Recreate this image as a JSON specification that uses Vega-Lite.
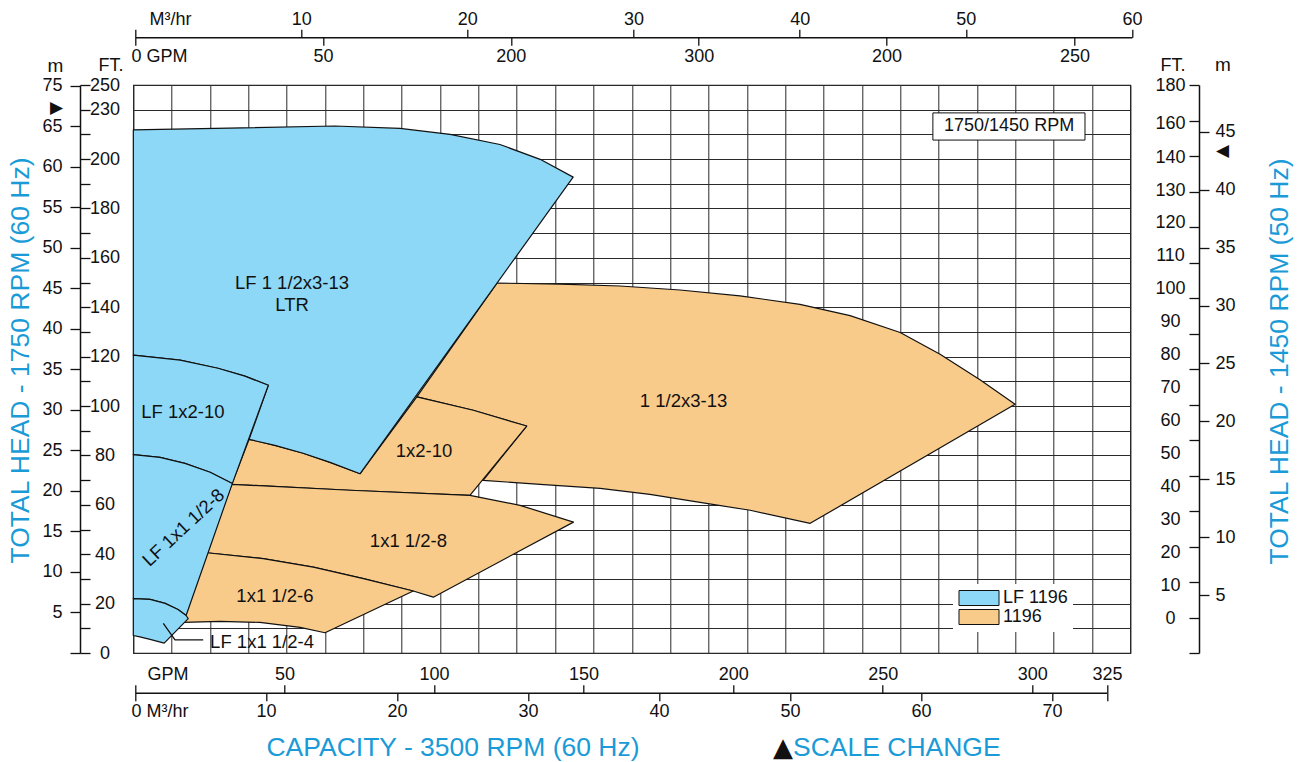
{
  "$schema": "https://vega.github.io/schema/vega-lite/v6.json",
  "width": 997,
  "height": 568,
  "autosize": {"type": "none"},
  "padding": {"left": 133.3, "top": 85, "right": 171.7, "bottom": 109},
  "background": "white",
  "datasets": {
    "polys": [
      {"poly": "1 1/2x3-13", "series": "1196", "i": 1, "gpm": 120.7, "ft": 149.8},
      {"poly": "1 1/2x3-13", "series": "1196", "i": 2, "gpm": 141.7, "ft": 149.4},
      {"poly": "1 1/2x3-13", "series": "1196", "i": 3, "gpm": 161.7, "ft": 148.6},
      {"poly": "1 1/2x3-13", "series": "1196", "i": 4, "gpm": 181.7, "ft": 147.0},
      {"poly": "1 1/2x3-13", "series": "1196", "i": 5, "gpm": 201.7, "ft": 144.6},
      {"poly": "1 1/2x3-13", "series": "1196", "i": 6, "gpm": 221.7, "ft": 141.2},
      {"poly": "1 1/2x3-13", "series": "1196", "i": 7, "gpm": 238.4, "ft": 136.6},
      {"poly": "1 1/2x3-13", "series": "1196", "i": 8, "gpm": 255.1, "ft": 129.8},
      {"poly": "1 1/2x3-13", "series": "1196", "i": 9, "gpm": 268.4, "ft": 121.0},
      {"poly": "1 1/2x3-13", "series": "1196", "i": 10, "gpm": 281.7, "ft": 110.6},
      {"poly": "1 1/2x3-13", "series": "1196", "i": 11, "gpm": 293.4, "ft": 100.7},
      {"poly": "1 1/2x3-13", "series": "1196", "i": 12, "gpm": 225.1, "ft": 52.5},
      {"poly": "1 1/2x3-13", "series": "1196", "i": 13, "gpm": 205.1, "ft": 57.8},
      {"poly": "1 1/2x3-13", "series": "1196", "i": 14, "gpm": 188.4, "ft": 61.0},
      {"poly": "1 1/2x3-13", "series": "1196", "i": 15, "gpm": 171.7, "ft": 64.2},
      {"poly": "1 1/2x3-13", "series": "1196", "i": 16, "gpm": 155.1, "ft": 66.7},
      {"poly": "1 1/2x3-13", "series": "1196", "i": 17, "gpm": 135.1, "ft": 68.3},
      {"poly": "1 1/2x3-13", "series": "1196", "i": 18, "gpm": 116.1, "ft": 69.9},
      {"poly": "1 1/2x3-13", "series": "1196", "i": 19, "gpm": 130.6, "ft": 91.9},
      {"poly": "1 1/2x3-13", "series": "1196", "i": 20, "gpm": 112.8, "ft": 98.3},
      {"poly": "1 1/2x3-13", "series": "1196", "i": 21, "gpm": 94.0, "ft": 103.7},
      {"poly": "1x2-10", "series": "1196", "i": 1, "gpm": 94.0, "ft": 103.7},
      {"poly": "1x2-10", "series": "1196", "i": 2, "gpm": 112.8, "ft": 98.3},
      {"poly": "1x2-10", "series": "1196", "i": 3, "gpm": 130.6, "ft": 91.9},
      {"poly": "1x2-10", "series": "1196", "i": 4, "gpm": 111.7, "ft": 63.8},
      {"poly": "1x2-10", "series": "1196", "i": 5, "gpm": 71.7, "ft": 65.9},
      {"poly": "1x2-10", "series": "1196", "i": 6, "gpm": 32.3, "ft": 68.3},
      {"poly": "1x2-10", "series": "1196", "i": 7, "gpm": 38.1, "ft": 86.5},
      {"poly": "1x2-10", "series": "1196", "i": 8, "gpm": 46.7, "ft": 84.1},
      {"poly": "1x2-10", "series": "1196", "i": 9, "gpm": 56.1, "ft": 80.9},
      {"poly": "1x2-10", "series": "1196", "i": 10, "gpm": 65.1, "ft": 77.2},
      {"poly": "1x2-10", "series": "1196", "i": 11, "gpm": 75.1, "ft": 72.6},
      {"poly": "1x1 1/2-8", "series": "1196", "i": 1, "gpm": 32.3, "ft": 68.3},
      {"poly": "1x1 1/2-8", "series": "1196", "i": 2, "gpm": 71.7, "ft": 65.9},
      {"poly": "1x1 1/2-8", "series": "1196", "i": 3, "gpm": 111.7, "ft": 63.8},
      {"poly": "1x1 1/2-8", "series": "1196", "i": 4, "gpm": 128.4, "ft": 59.8},
      {"poly": "1x1 1/2-8", "series": "1196", "i": 5, "gpm": 146.2, "ft": 53.0},
      {"poly": "1x1 1/2-8", "series": "1196", "i": 6, "gpm": 99.5, "ft": 22.6},
      {"poly": "1x1 1/2-8", "series": "1196", "i": 7, "gpm": 92.8, "ft": 25.1},
      {"poly": "1x1 1/2-8", "series": "1196", "i": 8, "gpm": 76.2, "ft": 30.1},
      {"poly": "1x1 1/2-8", "series": "1196", "i": 9, "gpm": 59.5, "ft": 34.8},
      {"poly": "1x1 1/2-8", "series": "1196", "i": 10, "gpm": 42.8, "ft": 38.2},
      {"poly": "1x1 1/2-8", "series": "1196", "i": 11, "gpm": 24.0, "ft": 40.6},
      {"poly": "1x1 1/2-6", "series": "1196", "i": 1, "gpm": 24.0, "ft": 40.6},
      {"poly": "1x1 1/2-6", "series": "1196", "i": 2, "gpm": 42.8, "ft": 38.2},
      {"poly": "1x1 1/2-6", "series": "1196", "i": 3, "gpm": 59.5, "ft": 34.8},
      {"poly": "1x1 1/2-6", "series": "1196", "i": 4, "gpm": 76.2, "ft": 30.1},
      {"poly": "1x1 1/2-6", "series": "1196", "i": 5, "gpm": 92.8, "ft": 25.1},
      {"poly": "1x1 1/2-6", "series": "1196", "i": 6, "gpm": 63.4, "ft": 8.2},
      {"poly": "1x1 1/2-6", "series": "1196", "i": 7, "gpm": 55.1, "ft": 10.4},
      {"poly": "1x1 1/2-6", "series": "1196", "i": 8, "gpm": 41.7, "ft": 12.4},
      {"poly": "1x1 1/2-6", "series": "1196", "i": 9, "gpm": 28.4, "ft": 12.8},
      {"poly": "1x1 1/2-6", "series": "1196", "i": 10, "gpm": 16.1, "ft": 12.4},
      {"poly": "LF 1 1/2x3-13 LTR", "series": "LF 1196", "i": 1, "gpm": -0.5, "ft": 211.8},
      {"poly": "LF 1 1/2x3-13 LTR", "series": "LF 1196", "i": 2, "gpm": 66.7, "ft": 213.4},
      {"poly": "LF 1 1/2x3-13 LTR", "series": "LF 1196", "i": 3, "gpm": 88.4, "ft": 212.4},
      {"poly": "LF 1 1/2x3-13 LTR", "series": "LF 1196", "i": 4, "gpm": 105.1, "ft": 210.0},
      {"poly": "LF 1 1/2x3-13 LTR", "series": "LF 1196", "i": 5, "gpm": 121.7, "ft": 205.9},
      {"poly": "LF 1 1/2x3-13 LTR", "series": "LF 1196", "i": 6, "gpm": 135.1, "ft": 199.9},
      {"poly": "LF 1 1/2x3-13 LTR", "series": "LF 1196", "i": 7, "gpm": 146.1, "ft": 192.7},
      {"poly": "LF 1 1/2x3-13 LTR", "series": "LF 1196", "i": 8, "gpm": 75.1, "ft": 72.6},
      {"poly": "LF 1 1/2x3-13 LTR", "series": "LF 1196", "i": 9, "gpm": 65.1, "ft": 77.2},
      {"poly": "LF 1 1/2x3-13 LTR", "series": "LF 1196", "i": 10, "gpm": 56.1, "ft": 80.9},
      {"poly": "LF 1 1/2x3-13 LTR", "series": "LF 1196", "i": 11, "gpm": 46.7, "ft": 84.1},
      {"poly": "LF 1 1/2x3-13 LTR", "series": "LF 1196", "i": 12, "gpm": 38.1, "ft": 86.5},
      {"poly": "LF 1 1/2x3-13 LTR", "series": "LF 1196", "i": 13, "gpm": 44.5, "ft": 108.4},
      {"poly": "LF 1 1/2x3-13 LTR", "series": "LF 1196", "i": 14, "gpm": 36.7, "ft": 112.1},
      {"poly": "LF 1 1/2x3-13 LTR", "series": "LF 1196", "i": 15, "gpm": 27.7, "ft": 115.3},
      {"poly": "LF 1 1/2x3-13 LTR", "series": "LF 1196", "i": 16, "gpm": 15.1, "ft": 118.6},
      {"poly": "LF 1 1/2x3-13 LTR", "series": "LF 1196", "i": 17, "gpm": -0.5, "ft": 120.6},
      {"poly": "LF 1x2-10", "series": "LF 1196", "i": 1, "gpm": -0.5, "ft": 120.6},
      {"poly": "LF 1x2-10", "series": "LF 1196", "i": 2, "gpm": 15.1, "ft": 118.6},
      {"poly": "LF 1x2-10", "series": "LF 1196", "i": 3, "gpm": 27.7, "ft": 115.3},
      {"poly": "LF 1x2-10", "series": "LF 1196", "i": 4, "gpm": 36.7, "ft": 112.1},
      {"poly": "LF 1x2-10", "series": "LF 1196", "i": 5, "gpm": 44.5, "ft": 108.4},
      {"poly": "LF 1x2-10", "series": "LF 1196", "i": 6, "gpm": 32.5, "ft": 68.6},
      {"poly": "LF 1x2-10", "series": "LF 1196", "i": 7, "gpm": 25.1, "ft": 73.2},
      {"poly": "LF 1x2-10", "series": "LF 1196", "i": 8, "gpm": 16.7, "ft": 76.8},
      {"poly": "LF 1x2-10", "series": "LF 1196", "i": 9, "gpm": 8.4, "ft": 79.2},
      {"poly": "LF 1x2-10", "series": "LF 1196", "i": 10, "gpm": -0.5, "ft": 80.3},
      {"poly": "LF 1x1 1/2-8", "series": "LF 1196", "i": 1, "gpm": -0.5, "ft": 80.3},
      {"poly": "LF 1x1 1/2-8", "series": "LF 1196", "i": 2, "gpm": 8.4, "ft": 79.2},
      {"poly": "LF 1x1 1/2-8", "series": "LF 1196", "i": 3, "gpm": 16.7, "ft": 76.8},
      {"poly": "LF 1x1 1/2-8", "series": "LF 1196", "i": 4, "gpm": 25.1, "ft": 73.2},
      {"poly": "LF 1x1 1/2-8", "series": "LF 1196", "i": 5, "gpm": 32.5, "ft": 68.6},
      {"poly": "LF 1x1 1/2-8", "series": "LF 1196", "i": 6, "gpm": 17.1, "ft": 15.2},
      {"poly": "LF 1x1 1/2-8", "series": "LF 1196", "i": 7, "gpm": 14.4, "ft": 17.6},
      {"poly": "LF 1x1 1/2-8", "series": "LF 1196", "i": 8, "gpm": 10.1, "ft": 20.1},
      {"poly": "LF 1x1 1/2-8", "series": "LF 1196", "i": 9, "gpm": 5.1, "ft": 21.7},
      {"poly": "LF 1x1 1/2-8", "series": "LF 1196", "i": 10, "gpm": -0.5, "ft": 22.0},
      {"poly": "LF 1x1 1/2-4", "series": "LF 1196", "i": 1, "gpm": -0.5, "ft": 22.0},
      {"poly": "LF 1x1 1/2-4", "series": "LF 1196", "i": 2, "gpm": 5.1, "ft": 21.7},
      {"poly": "LF 1x1 1/2-4", "series": "LF 1196", "i": 3, "gpm": 10.1, "ft": 20.1},
      {"poly": "LF 1x1 1/2-4", "series": "LF 1196", "i": 4, "gpm": 14.4, "ft": 17.6},
      {"poly": "LF 1x1 1/2-4", "series": "LF 1196", "i": 5, "gpm": 17.1, "ft": 15.2},
      {"poly": "LF 1x1 1/2-4", "series": "LF 1196", "i": 6, "gpm": 17.8, "ft": 13.9},
      {"poly": "LF 1x1 1/2-4", "series": "LF 1196", "i": 7, "gpm": 9.8, "ft": 4.0},
      {"poly": "LF 1x1 1/2-4", "series": "LF 1196", "i": 8, "gpm": 5.1, "ft": 5.5},
      {"poly": "LF 1x1 1/2-4", "series": "LF 1196", "i": 9, "gpm": 1.7, "ft": 6.5},
      {"poly": "LF 1x1 1/2-4", "series": "LF 1196", "i": 10, "gpm": -0.5, "ft": 7.1}
    ],
    "labels": [
      {"label": "LF 1 1/2x3-13\nLTR", "gpm": 52.4, "ft": 149.8},
      {"label": "LF 1x2-10", "gpm": 16.0, "ft": 97.7},
      {"label": "1x2-10", "gpm": 96.4, "ft": 81.9},
      {"label": "1 1/2x3-13", "gpm": 182.9, "ft": 102.0},
      {"label": "1x1 1/2-8", "gpm": 91.2, "ft": 45.4},
      {"label": "1x1 1/2-6", "gpm": 46.7, "ft": 23.2}
    ],
    "slanted": [{"label": "LF 1x1 1/2-8", "gpm": 16.2, "ft": 50.8}],
    "pointer": [{"label": "LF 1x1 1/2-4", "gpm": 25.1, "ft": 4.6}],
    "leader": [
      {"i": 1, "gpm": 9.5, "ft": 12.0},
      {"i": 2, "gpm": 13.4, "ft": 5.3},
      {"i": 3, "gpm": 22.8, "ft": 5.3}
    ],
    "note": [{"label": "1750/1450 RPM", "gpm": 266.0, "gpm2": 316.7, "ft": 207.7, "ft2": 218.7, "gpmc": 291.4, "ftc": 213.2}],
    "anchor": [{"v": 0}]
  },
  "layer": [
    {
      "data": {"name": "anchor"},
      "mark": {"type": "point", "opacity": 0},
      "encoding": {
        "x": {"field": "v", "type": "quantitative", "scale": {"domain": [0, 26], "nice": false, "zero": false},
          "axis": {"orient": "bottom", "grid": true, "ticks": false, "labels": false, "domain": false,
            "values": [0,1,2,3,4,5,6,7,8,9,10,11,12,13,14,15,16,17,18,19,20,21,22,23,24,25,26],
            "gridColor": "#2a2a2a", "gridWidth": 1,
            "title": "m", "titleX": -78.3, "titleY": -582, "titleAngle": 0, "titleAlign": "center", "titleBaseline": "alphabetic", "titleFontSize": 19}},
        "y": {"field": "v", "type": "quantitative", "scale": {"domain": [0, 23], "nice": false, "zero": false},
          "axis": {"orient": "left", "grid": true, "ticks": false, "labels": false, "domain": false,
            "values": [0,1,2,3,4,5,6,7,8,9,10,11,12,13,14,15,16,17,18,19,20,21,22,23],
            "gridColor": "#2a2a2a", "gridWidth": 1,
            "title": "m", "titleX": 1089.2, "titleY": -15, "titleAngle": 0, "titleAlign": "center", "titleBaseline": "alphabetic", "titleFontSize": 19}}
      }
    },
    {
      "data": {"name": "polys"},
      "mark": {"type": "line", "interpolate": "linear-closed", "stroke": "#111", "strokeWidth": 1.2, "strokeJoin": "round"},
      "encoding": {
        "x": {"field": "gpm", "type": "quantitative", "scale": {"domain": [-0.5, 331.8], "nice": false, "zero": false}, "axis": null},
        "y": {"field": "ft", "type": "quantitative", "scale": {"domain": [0, 230], "nice": false, "zero": false},
          "axis": {"orient": "right", "offset": -1050.3,
            "values": [0,10,20,30,40,50,60,70,80,90,100,110,120,130,140,150,160,170,180,190,200,210,220,230],
            "labelExpr": "datum.value == 230 ? '250' : datum.value == 220 ? '230' : (datum.value % 20 == 0 ? datum.label : '')",
            "tickSize": 10, "labelPadding": 14.5, "labelAlign": "center", "domain": true,
            "title": "FT.", "titleX": 30.5, "titleY": -15, "titleAngle": 0, "titleAlign": "center", "titleBaseline": "alphabetic", "titleFontSize": 18}},
        "order": {"field": "i"},
        "detail": {"field": "poly"},
        "fill": {"field": "series", "type": "nominal",
          "scale": {"domain": ["LF 1196", "1196"], "range": ["#8ed8f7", "#f8cb8b"]},
          "legend": {"orient": "none", "legendX": 819.7, "legendY": 499, "title": null,
            "symbolType": "M-2.667,-1H2.667V1H-2.667Z", "symbolSize": 225, "symbolOffset": 12,
            "labelOffset": 15, "labelFontSize": 18, "labelFont": "Liberation Sans", "labelColor": "#111",
            "fillColor": "white", "padding": 5, "rowPadding": -3,
            "symbolStrokeColor": "#111", "symbolStrokeWidth": 1, "symbolOpacity": 1}}
      }
    },
    {
      "data": {"name": "leader"},
      "mark": {"type": "line", "stroke": "#111", "strokeWidth": 1.3},
      "encoding": {
        "x": {"field": "gpm", "type": "quantitative", "scale": {"domain": [-0.5, 331.8], "nice": false, "zero": false}, "axis": null},
        "y": {"field": "ft", "type": "quantitative", "scale": {"domain": [0, 230], "nice": false, "zero": false}, "axis": null},
        "order": {"field": "i"}
      }
    },
    {
      "data": {"name": "labels"},
      "mark": {"type": "text", "fontSize": 18.5, "font": "Liberation Sans", "color": "#111", "align": "center", "baseline": "middle", "lineBreak": "\n", "lineHeight": 22},
      "encoding": {
        "x": {"field": "gpm", "type": "quantitative", "scale": {"domain": [-0.5, 331.8], "nice": false, "zero": false}, "axis": null},
        "y": {"field": "ft", "type": "quantitative", "scale": {"domain": [0, 230], "nice": false, "zero": false}, "axis": null},
        "text": {"field": "label"}
      }
    },
    {
      "data": {"name": "slanted"},
      "mark": {"type": "text", "fontSize": 18.5, "font": "Liberation Sans", "color": "#111", "align": "center", "baseline": "middle", "angle": 317},
      "encoding": {
        "x": {"field": "gpm", "type": "quantitative", "scale": {"domain": [-0.5, 331.8], "nice": false, "zero": false}, "axis": null},
        "y": {"field": "ft", "type": "quantitative", "scale": {"domain": [0, 230], "nice": false, "zero": false}, "axis": null},
        "text": {"field": "label"}
      }
    },
    {
      "data": {"name": "pointer"},
      "mark": {"type": "text", "fontSize": 18.5, "font": "Liberation Sans", "color": "#111", "align": "left", "baseline": "middle"},
      "encoding": {
        "x": {"field": "gpm", "type": "quantitative", "scale": {"domain": [-0.5, 331.8], "nice": false, "zero": false}, "axis": null},
        "y": {"field": "ft", "type": "quantitative", "scale": {"domain": [0, 230], "nice": false, "zero": false}, "axis": null},
        "text": {"field": "label"}
      }
    },
    {
      "data": {"name": "note"},
      "mark": {"type": "rect", "fill": "white", "stroke": "#111", "strokeWidth": 1},
      "encoding": {
        "x": {"field": "gpm", "type": "quantitative", "scale": {"domain": [-0.5, 331.8], "nice": false, "zero": false}, "axis": null},
        "x2": {"field": "gpm2"},
        "y": {"field": "ft", "type": "quantitative", "scale": {"domain": [0, 230], "nice": false, "zero": false}, "axis": null},
        "y2": {"field": "ft2"}
      }
    },
    {
      "data": {"name": "note"},
      "mark": {"type": "text", "fontSize": 18, "font": "Liberation Sans", "color": "#111", "align": "center", "baseline": "middle"},
      "encoding": {
        "x": {"field": "gpmc", "type": "quantitative", "scale": {"domain": [-0.5, 331.8], "nice": false, "zero": false}, "axis": null},
        "y": {"field": "ftc", "type": "quantitative", "scale": {"domain": [0, 230], "nice": false, "zero": false}, "axis": null},
        "text": {"field": "label"}
      }
    },
    {
      "data": {"name": "anchor"},
      "mark": {"type": "point", "opacity": 0},
      "encoding": {
        "x": {"field": "v", "type": "quantitative", "scale": {"domain": [0, 60], "range": [1.7, 998.7], "nice": false, "zero": false},
          "axis": {"orient": "top", "offset": 47.7, "values": [0,10,20,30,40,50,60],
            "labelExpr": "datum.value == 0 ? 'M³/hr' : datum.label",
            "labelAlign": {"condition": {"test": "datum.value == 0", "value": "left"}, "value": "center"},
            "labelOffset": {"condition": {"test": "datum.value == 0", "value": 14}, "value": 0},
            "tickSize": 8, "labelPadding": 1, "domain": true,
            "title": "▲", "titleX": 659.2, "titleY": 717.7, "titleAngle": 0, "titleAlign": "right", "titleBaseline": "alphabetic", "titleFontSize": 26, "titleFont": "DejaVu Sans", "titleColor": "#111"}},
        "y": {"field": "v", "type": "quantitative", "scale": {"domain": [0, 70.12], "nice": false, "zero": false},
          "axis": {"orient": "left", "offset": 53.3, "values": [0,5,10,15,20,25,30,35,40,45,50,55,60,65,67.4,70],
            "labelExpr": "datum.value == 70 ? '75' : datum.value == 67.4 ? '▶' : datum.value == 0 ? '' : datum.label",
            "tickOpacity": {"condition": {"test": "datum.value == 67.4", "value": 0}, "value": 1},
            "labelFontSize": {"condition": {"test": "datum.value == 67.4", "value": 17}, "value": 18},
            "tickSize": 10, "labelPadding": 8, "domain": false,
            "title": "TOTAL HEAD - 1750 RPM (60 Hz)", "titleX": -60, "titleY": 275, "titleAngle": 270, "titleAlign": "center", "titleBaseline": "middle", "titleFontSize": 26.5, "titleColor": "#1a9bd7"}}
      }
    },
    {
      "data": {"name": "anchor"},
      "mark": {"type": "point", "opacity": 0},
      "encoding": {
        "x": {"field": "v", "type": "quantitative", "scale": {"domain": [0, 265.3], "range": [1.7, 998.7], "nice": false, "zero": false},
          "axis": {"orient": "bottom", "offset": -615.7, "values": [0,50,100,150,200,250],
            "labelExpr": "datum.value == 0 ? '0 GPM' : datum.value == 100 ? '200' : datum.value == 150 ? '300' : datum.label",
            "labelAlign": {"condition": {"test": "datum.value == 0", "value": "left"}, "value": "center"},
            "labelOffset": {"condition": {"test": "datum.value == 0", "value": -4}, "value": 0},
            "tickSize": 8, "labelPadding": 2, "domain": false, "title": null}},
        "y": {"field": "v", "type": "quantitative", "scale": {"domain": [0, 160], "nice": false, "zero": false},
          "axis": {"orient": "left", "offset": -1065.7, "values": [0,10,20,30,40,50,60,70,80,90,100,110,120,130,140,150,160],
            "labels": false, "tickSize": 10, "domain": true,
            "title": "FT.", "titleX": -26.5, "titleY": -15, "titleAngle": 0, "titleAlign": "center", "titleBaseline": "alphabetic", "titleFontSize": 18}}
      }
    },
    {
      "data": {"name": "anchor"},
      "mark": {"type": "point", "opacity": 0},
      "encoding": {
        "x": {"field": "v", "type": "quantitative", "scale": {"domain": [0, 325], "range": [1.7, 973.7], "nice": false, "zero": false},
          "axis": {"orient": "top", "offset": -607.7, "values": [0,50,100,150,200,250,300,325],
            "labelExpr": "datum.value == 0 ? 'GPM' : datum.label",
            "labelAlign": {"condition": {"test": "datum.value == 0", "value": "left"}, "value": "center"},
            "labelOffset": {"condition": {"test": "datum.value == 0", "value": 12}, "value": 0},
            "tickSize": 8, "labelPadding": 1, "domain": true,
            "title": "SCALE CHANGE", "titleX": 659.2, "titleY": 62.3, "titleAngle": 0, "titleAlign": "left", "titleBaseline": "alphabetic", "titleFontSize": 26.5, "titleColor": "#1a9bd7"}},
        "y": {"field": "v", "type": "quantitative", "scale": {"domain": [-10.63, 161.9], "nice": false, "zero": false},
          "axis": {"orient": "left", "offset": -1065.7, "values": [0,10,20,30,40,50,60,70,80,90,100,110,120,130,140,150.3,161.9],
            "labelExpr": "datum.value > 155 ? '180' : datum.value > 145 ? '160' : datum.label",
            "ticks": false, "tickSize": 0, "labelPadding": 29, "labelAlign": "center", "domain": false, "title": null}}
      }
    },
    {
      "data": {"name": "anchor"},
      "mark": {"type": "point", "opacity": 0},
      "encoding": {
        "x": {"field": "v", "type": "quantitative", "scale": {"domain": [0, 74.2], "range": [1.7, 973.7], "nice": false, "zero": false},
          "axis": {"orient": "bottom", "offset": 39.7, "values": [0,10,20,30,40,50,60,70,74.2],
            "labelExpr": "datum.value == 0 ? '0  M³/hr' : datum.value > 74 ? '' : datum.label",
            "labelAlign": {"condition": {"test": "datum.value == 0", "value": "left"}, "value": "center"},
            "labelOffset": {"condition": {"test": "datum.value == 0", "value": -4}, "value": 0},
            "tickSize": 8, "labelPadding": 2, "domain": false,
            "title": "CAPACITY - 3500 RPM (60 Hz)", "titleX": 319.2, "titleY": 62.3, "titleAngle": 0, "titleAlign": "center", "titleBaseline": "alphabetic", "titleFontSize": 26.5, "titleColor": "#1a9bd7"}},
        "y": {"field": "v", "type": "quantitative", "scale": {"domain": [0, 49.05], "nice": false, "zero": false},
          "axis": {"orient": "right", "offset": 68.7, "values": [5,10,15,20,25,30,35,40,43.4,45],
            "labelExpr": "datum.value == 43.4 ? '◀' : datum.label",
            "tickOpacity": {"condition": {"test": "datum.value == 43.4", "value": 0}, "value": 1},
            "labelFontSize": {"condition": {"test": "datum.value == 43.4", "value": 17}, "value": 18},
            "tickSize": 10, "labelPadding": 6, "domain": false,
            "title": "TOTAL HEAD - 1450 RPM (50 Hz)", "titleX": 80, "titleY": 276, "titleAngle": 270, "titleAlign": "center", "titleBaseline": "middle", "titleFontSize": 26.5, "titleColor": "#1a9bd7"}}
      }
    }
  ],
  "resolve": {
    "scale": {"x": "independent", "y": "independent"},
    "axis": {"x": "independent", "y": "independent"}
  },
  "config": {
    "font": "Liberation Sans",
    "view": {"stroke": "#222", "strokeWidth": 1.2},
    "axis": {
      "labelFont": "Liberation Sans", "labelFontSize": 18, "labelColor": "#111",
      "tickColor": "#111", "domainColor": "#111", "tickWidth": 1.3, "domainWidth": 1.5,
      "labelOverlap": false, "labelFlush": false, "labelBound": false, "grid": false,
      "titleFont": "Liberation Sans", "titleFontWeight": "normal", "titleColor": "#111"
    }
  }
}
